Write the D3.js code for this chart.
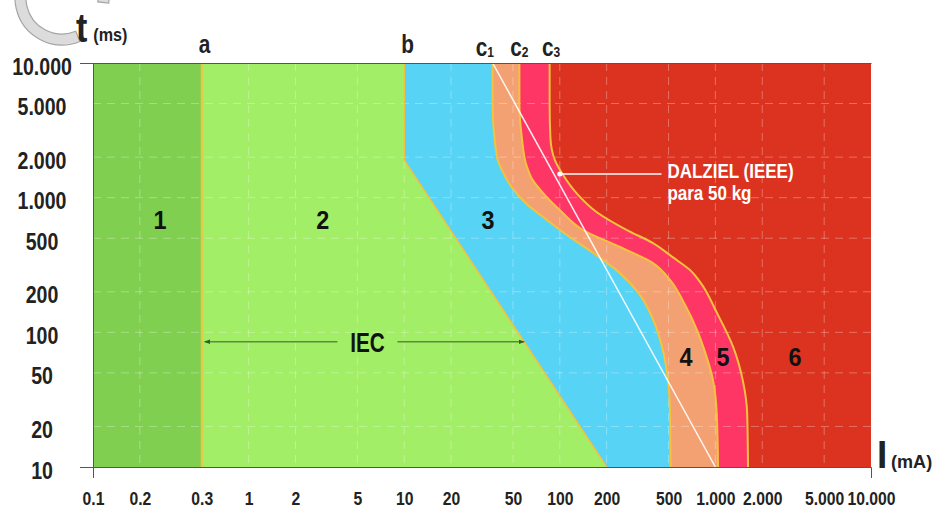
<!DOCTYPE html>
<html>
<head>
<meta charset="utf-8">
<script src="https://cdn.jsdelivr.net/npm/d3@7"></script>
<style>
  html, body { margin: 0; padding: 0; background: #fff; }
  svg { display: block; }
  text {
    font-family: "Liberation Sans", Arial, sans-serif;
    font-weight: bold;
  }
</style>
</head>
<body>
<svg id="chart" width="938" height="508"></svg>
<script>
// Axis ticks (current in mA, time in ms)
const xTicks = [0.1, 0.2, 0.5, 1, 2, 5, 10, 20, 50, 100, 200, 500, 1000, 2000, 5000, 10000];
const xTickLabels = ["0.1", "0.2", "0.3", "1", "2", "5", "10", "20", "50", "100", "200", "500", "1.000", "2.000", "5.000", "10.000"];
const yTicks = [10, 20, 50, 100, 200, 500, 1000, 2000, 5000, 10000];
const yTickLabels = ["10", "20", "50", "100", "200", "500", "1.000", "2.000", "5.000", "10.000"];

// Zone boundary curves: [current mA, time ms], ordered from long to short duration
const curveA = [[0.5, 10000], [0.5, 10]];
const curveB = [[10, 10000], [10, 1900], [200, 10]];
const curveC1 = [[37, 10000], [37, 5000], [39.5, 2000], [42.5, 1600], [49, 1200], [61, 900], [83, 680],
  [116, 510], [163, 390], [244, 275], [327, 190], [397, 125], [454, 78], [496, 44], [511, 25], [515, 10]];
const curveC2 = [[55, 10000], [55, 5000], [57, 2800], [61, 1750], [67, 1350], [80, 1050], [100, 810],
  [141, 575], [244, 430], [397, 327], [511, 245], [638, 160], [762, 104], [870, 68], [966, 44], [1020, 25], [1040, 10]];
const curveC3 = [[86, 10000], [86, 5000], [87, 2800], [93, 1900], [105, 1475], [131, 1050], [173, 780],
  [270, 575], [397, 460], [534, 360], [687, 290], [796, 237], [1024, 139], [1300, 78], [1500, 44], [1600, 25], [1620, 10]];

// Dalziel (IEEE) fibrillation line for a 50 kg body
const dalziel = [[37, 10000], [1000, 10]];

// Zone numbers and their anchor points [mA, ms]
const zoneNames = ["1", "2", "3", "4", "5", "6"];
const zoneAnchors = [[0.27, 680], [3.0, 680], [34.6, 680], [647, 66], [1119, 66], [3251, 66]];

// Curve names shown above the field
const curveNames = ["a", "b", "c", "c", "c"];
const curveSubs = ["", "", "1", "2", "3"];
const curveTops = [0.52, 10.5, 33, 55, 88];

// IEC range arrow height (ms) and Dalziel callout anchor [mA, ms]
const iecArrowTime = 85;
const dalzielCallout = [100, 1500];
const dalzielCalloutEnd = 450;
const dalzielText = ["DALZIEL (IEEE)", "para 50 kg"];

const colors = {
  z1: "#80cf50", z2: "#a2ee66", z3: "#57d3f5", z4: "#f3a172", z5: "#fd3666", z6: "#db3320",
  boundary: "#f5c23e", grid: "rgba(255,255,255,0.3)", axis: "#555", arrow: "#3b5a2c", ink: "#222"
};
const NARROW = 0.82;   // horizontal squeeze that gives the condensed lettering

const svg = d3.select("#chart");
const x = d3.scaleLog().domain([0.1, 10000]).range([93, 871]);
const y = d3.scaleLog().domain([10, 10000]).range([467, 63]);
const [x0, x1] = x.range();
const [yB, yT] = y.range();

// place a condensed text at (px, py)
function condensed(sel, px, py, sx = NARROW) {
  return sel.attr("transform", `translate(${px},${py}) scale(${sx},1)`);
}

// faint logo ring in the corner
svg.append("path")
  .attr("transform", "translate(62,-2)")
  .attr("d", d3.arc().innerRadius(36).outerRadius(47).startAngle(2.75).endAngle(2 * Math.PI + 1.68)())
  .attr("fill", "#dcdcdc").attr("stroke", "#a5a5a5").attr("stroke-width", 1.2);

const defs = svg.append("defs");
defs.append("clipPath").attr("id", "plotClip")
  .append("rect").attr("x", x0).attr("y", yT).attr("width", x1 - x0).attr("height", yB - yT);
defs.append("marker").attr("id", "arrowHead")
  .attr("viewBox", "0 0 8 8").attr("refX", 7).attr("refY", 4)
  .attr("markerWidth", 6).attr("markerHeight", 6).attr("orient", "auto-start-reverse")
  .append("path").attr("d", "M0,1 L8,4 L0,7 Z").attr("fill", colors.arrow);

const plot = svg.append("g").attr("clip-path", "url(#plotClip)");

// zone 6 fills the whole field; the other zones are stacked from the right
plot.append("rect").attr("x", x0).attr("y", yT).attr("width", x1 - x0).attr("height", yB - yT)
  .attr("fill", colors.z6);

const leftOf = (curve) => d3.area()
  .curve(curve)
  .y(d => y(d[1]))
  .x0(x0 - 2)
  .x1(d => x(d[0]));

const zones = [
  { data: curveC3, fill: colors.z5, curve: d3.curveMonotoneY, width: 2 },
  { data: curveC2, fill: colors.z4, curve: d3.curveMonotoneY, width: 2 },
  { data: curveC1, fill: colors.z3, curve: d3.curveMonotoneY, width: 2 },
  { data: curveB, fill: colors.z2, curve: d3.curveLinear, width: 1.6 },
  { data: curveA, fill: colors.z1, curve: d3.curveLinear, width: 2 }
];
zones.forEach(z => {
  plot.append("path").attr("d", leftOf(z.curve)(z.data)).attr("fill", z.fill);
});

// dashed grid
plot.append("g").selectAll("line").data(xTicks.slice(1, -1)).join("line")
  .attr("x1", d => x(d)).attr("x2", d => x(d)).attr("y1", yT).attr("y2", yB)
  .attr("stroke", colors.grid).attr("stroke-width", 1).attr("stroke-dasharray", "8,6");
plot.append("g").selectAll("line").data(yTicks.slice(1, -1)).join("line")
  .attr("y1", d => y(d)).attr("y2", d => y(d)).attr("x1", x0).attr("x2", x1)
  .attr("stroke", colors.grid).attr("stroke-width", 1).attr("stroke-dasharray", "8,6");

// boundary curves
zones.forEach(z => {
  plot.append("path")
    .attr("d", d3.line().curve(z.curve).x(d => x(d[0])).y(d => y(d[1]))(z.data))
    .attr("fill", "none").attr("stroke", colors.boundary).attr("stroke-width", z.width);
});

// Dalziel line
plot.append("path")
  .attr("d", d3.line().x(d => x(d[0])).y(d => y(d[1]))(dalziel))
  .attr("fill", "none").attr("stroke", "#fff").attr("stroke-opacity", 0.9).attr("stroke-width", 1.5);

// Dalziel callout
const calloutY = y(dalzielCallout[1]);
plot.append("line")
  .attr("x1", x(dalzielCallout[0])).attr("x2", x(dalzielCalloutEnd))
  .attr("y1", calloutY).attr("y2", calloutY)
  .attr("stroke", "#fff").attr("stroke-width", 1.5);
plot.append("circle").attr("cx", x(dalzielCallout[0])).attr("cy", calloutY).attr("r", 2.5).attr("fill", "#fff");
svg.append("g").selectAll("text").data(dalzielText).join("text")
  .each(function (d, i) { condensed(d3.select(this), x(dalzielCalloutEnd) + 6, calloutY + 4 + i * 22, 0.85); })
  .attr("fill", "#fff").attr("font-size", 20)
  .text(d => d);

// zone numbers
svg.append("g").selectAll("text").data(zoneNames).join("text")
  .each(function (d, i) { condensed(d3.select(this), x(zoneAnchors[i][0]), y(zoneAnchors[i][1]) + 9, 0.9); })
  .attr("text-anchor", "middle").attr("font-size", 26).attr("fill", "#111")
  .text(d => d);

// IEC range arrow between curve a and curve b
function currentOnB(t) {
  for (let i = 0; i < curveB.length - 1; i++) {
    const [ia, ta] = curveB[i], [ib, tb] = curveB[i + 1];
    if (t <= ta && t >= tb) {
      const f = (Math.log(ta) - Math.log(t)) / (Math.log(ta) - Math.log(tb));
      return Math.exp(Math.log(ia) + f * (Math.log(ib) - Math.log(ia)));
    }
  }
  return curveB[curveB.length - 1][0];
}
const iecLeft = x(curveA[0][0]) + 3;
const iecRight = x(currentOnB(iecArrowTime));
const iecMid = (iecLeft + iecRight) / 2 + 2;
const iecY = y(iecArrowTime);
const iec = svg.append("g");
iec.append("line").attr("x1", iecMid - 29).attr("x2", iecLeft).attr("y1", iecY).attr("y2", iecY)
  .attr("stroke", colors.arrow).attr("stroke-width", 1).attr("marker-end", "url(#arrowHead)");
iec.append("line").attr("x1", iecMid + 31).attr("x2", iecRight).attr("y1", iecY).attr("y2", iecY)
  .attr("stroke", colors.arrow).attr("stroke-width", 1).attr("marker-end", "url(#arrowHead)");
condensed(iec.append("text"), iecMid + 1, iecY + 10, 0.74)
  .attr("text-anchor", "middle").attr("font-size", 28).attr("fill", "#111").text("IEC");

// curve names above the field
const names = svg.append("g").selectAll("text").data(curveNames).join("text")
  .each(function (d, i) { condensed(d3.select(this), x(curveTops[i]), curveSubs[i] ? 56 : 53, 0.8); })
  .attr("text-anchor", "middle").attr("font-size", 26).attr("fill", colors.ink);
names.append("tspan").text(d => d);
names.append("tspan").attr("font-size", 15).attr("dy", 1).text((d, i) => curveSubs[i]);

// frame: left edge with end ticks, bottom edge with end ticks, top edge
svg.append("g").attr("transform", `translate(${x0},0)`)
  .call(d3.axisLeft(y).tickValues([]).tickSizeOuter(13))
  .select(".domain").attr("stroke", colors.axis);
svg.append("g").attr("transform", `translate(0,${yB})`)
  .call(d3.axisBottom(x).tickValues([]).tickSizeOuter(11))
  .select(".domain").attr("stroke", colors.axis);
svg.append("g").attr("transform", `translate(0,${yT})`)
  .call(d3.axisTop(x).tickValues([]).tickSizeOuter(0))
  .select(".domain").attr("stroke", colors.axis);

// tick labels
const yAxis = svg.append("g").attr("transform", "translate(42,0)")
  .call(d3.axisLeft(y).tickValues(yTicks).tickFormat((d, i) => yTickLabels[i]).tickSize(0).tickPadding(0));
yAxis.attr("font-family", null).attr("font-size", null);
yAxis.select(".domain").remove();
yAxis.selectAll("text")
  .attr("x", 0).attr("dy", 0).attr("y", 11)
  .attr("transform", `scale(0.85,1)`)
  .attr("text-anchor", "middle").attr("font-size", 23).attr("fill", colors.ink);

const xAxis = svg.append("g").attr("transform", "translate(0,505)")
  .call(d3.axisBottom(x).tickValues(xTicks).tickFormat((d, i) => xTickLabels[i]).tickSize(0).tickPadding(0));
xAxis.attr("font-family", null).attr("font-size", null);
xAxis.select(".domain").remove();
xAxis.selectAll("text")
  .attr("y", 0).attr("dy", 0)
  .attr("transform", `scale(0.85,1)`)
  .attr("text-anchor", "middle").attr("font-size", 18.5).attr("fill", colors.ink);

// axis titles
const tTitle = condensed(svg.append("text"), 76, 42, 0.85).attr("fill", colors.ink);
tTitle.append("tspan").attr("font-size", 40).text("t");
tTitle.append("tspan").attr("font-size", 19).attr("dx", 7).attr("dy", -1).text("(ms)");

const iTitle = condensed(svg.append("text"), 877, 468, 0.95).attr("fill", colors.ink);
iTitle.append("tspan").attr("font-size", 39).text("I");
iTitle.append("tspan").attr("font-size", 19).attr("dx", 4).text("(mA)");
</script>
</body>
</html>
